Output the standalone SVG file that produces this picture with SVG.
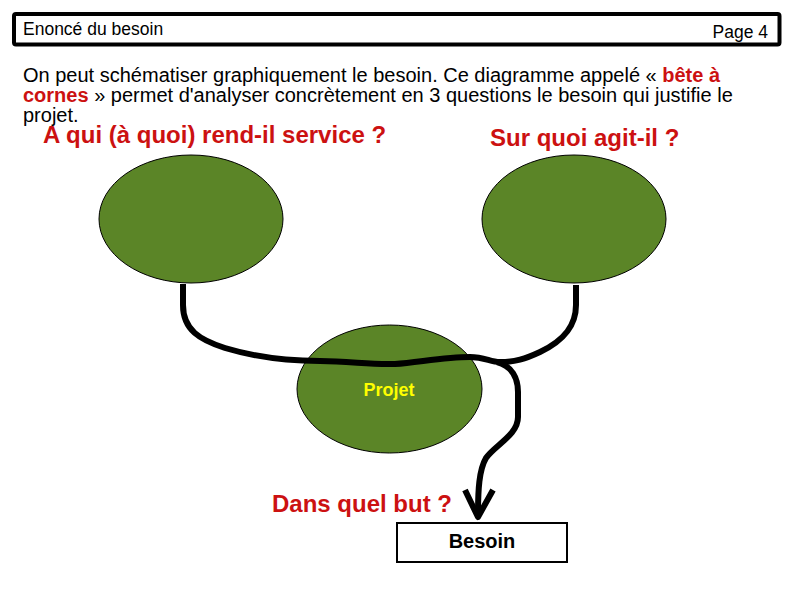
<svg xmlns="http://www.w3.org/2000/svg" width="794" height="595" viewBox="0 0 794 595">
<style>
text{font-family:"Liberation Sans",Arial,sans-serif}
.hdr{font-size:17.5px;fill:#000}
.para{font-size:20px;fill:#000}
.red{fill:#cc1111;font-weight:bold}
.q{font-size:24px;font-weight:bold;fill:#cc1111}
.node{fill:#5b8527;stroke:#000;stroke-width:1}
.conn{fill:none;stroke:#000;stroke-width:6;stroke-linecap:butt;stroke-linejoin:round}
</style>
<rect width="794" height="595" fill="#fff"/>
<g id="header">
<rect x="14" y="14" width="765.5" height="30.5" rx="2" fill="none" stroke="#000" stroke-width="4"/>
<text class="hdr" x="23" y="35">Enoncé du besoin</text>
<text class="hdr" x="768" y="38" text-anchor="end">Page 4</text>
</g>
<g id="intro">
<text class="para" x="23" y="82">On peut schématiser graphiquement le besoin. Ce diagramme appelé « <tspan class="red">bête à</tspan></text>
<text class="para" x="23" y="102"><tspan class="red">cornes</tspan> » permet d'analyser concrètement en 3 questions le besoin qui justifie le</text>
<text class="para" x="23" y="122">projet.</text>
</g>
<g id="q1"><text class="q" x="43" y="143">A qui (à quoi) rend-il service ?</text></g>
<g id="q2"><text class="q" x="490" y="146">Sur quoi agit-il ?</text></g>
<g id="q3"><text class="q" x="272" y="512">Dans quel but ?</text></g>
<g id="node-left"><ellipse class="node" cx="191" cy="219" rx="92" ry="64"/></g>
<g id="node-right"><ellipse class="node" cx="574" cy="219" rx="92" ry="64"/></g>
<g id="node-projet">
<ellipse class="node" cx="389.5" cy="389" rx="92.5" ry="64"/>
<text x="389" y="396" font-size="18" font-weight="bold" fill="#ffff00" text-anchor="middle">Projet</text>
</g>
<g id="node-besoin">
<rect x="397" y="523" width="170" height="39" fill="#fff" stroke="#000" stroke-width="2"/>
<text x="482" y="548" font-size="20" font-weight="bold" fill="#000" text-anchor="middle">Besoin</text>
</g>
<g id="connectors">
<path class="conn" d="M183,284 L183,305 C183,330 200,340 225,348 C255,357 285,361 320,361 C350,361 370,365 395,364 C420,362 445,357 470,357 C485,357 490,362 500,362 C515,362 525,359 540,352 C565,340 576,325 576,305 L576,285"/>
<path class="conn" d="M497,362 C512,366 518,378 518,392 L518,417 C518,435 495,445 486,458 C479,470 478,490 478,515"/>
<path class="conn" d="M465,490 L478,517 L493,490"/>
</g>
</svg>
